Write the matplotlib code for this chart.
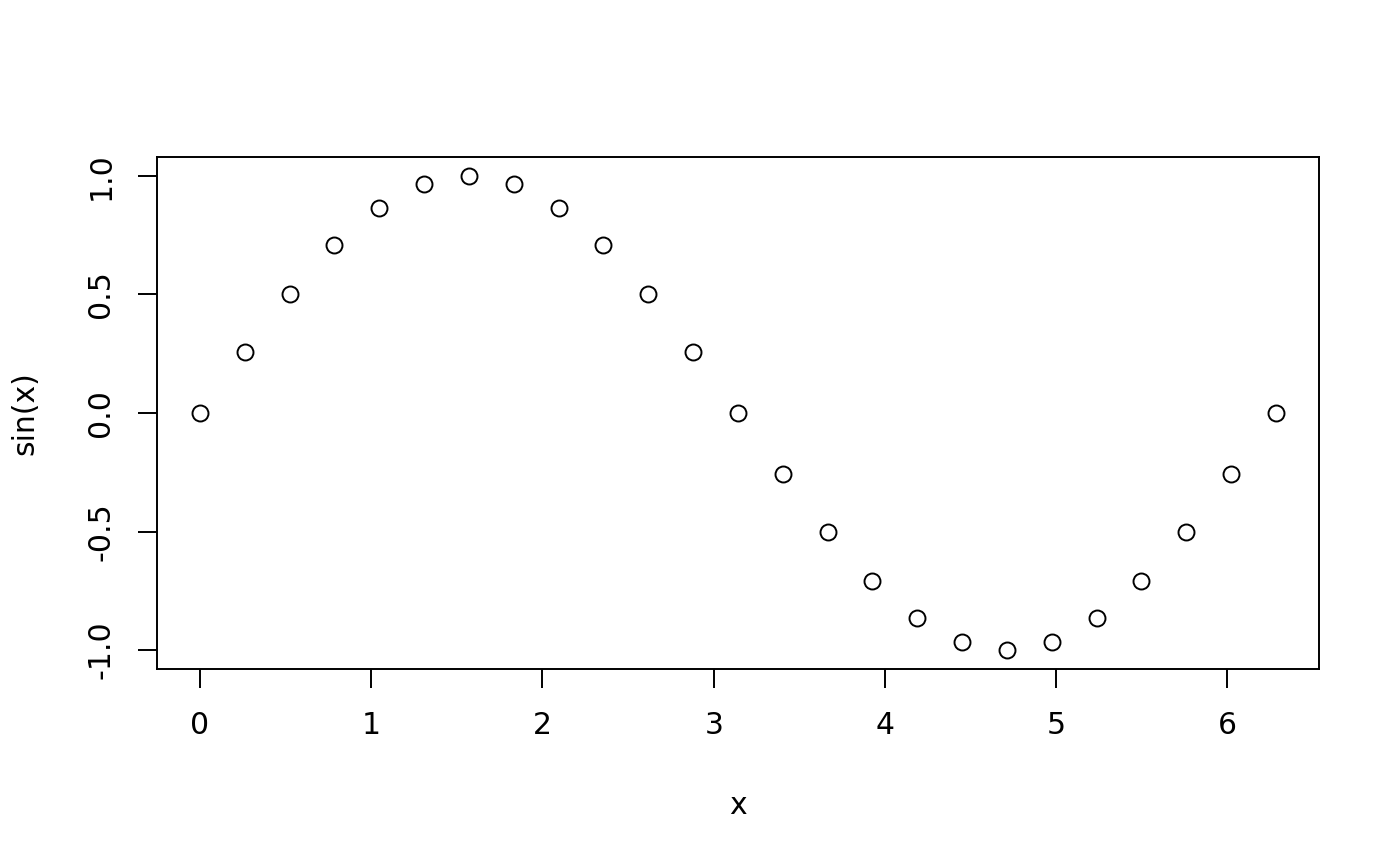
import matplotlib.pyplot as plt

# points (25 samples over 0..2pi)
x = [0.000, 0.262, 0.524, 0.785, 1.047, 1.309, 1.571, 1.833, 2.094, 2.356,
     2.618, 2.880, 3.142, 3.403, 3.665, 3.927, 4.189, 4.451, 4.712, 4.974,
     5.236, 5.498, 5.760, 6.021, 6.283]
y = [0.000, 0.259, 0.500, 0.707, 0.866, 0.966, 1.000, 0.966, 0.866, 0.707,
     0.500, 0.259, 0.000, -0.259, -0.500, -0.707, -0.866, -0.966, -1.000, -0.966,
     -0.866, -0.707, -0.500, -0.259, 0.000]

xticks = [0, 1, 2, 3, 4, 5, 6]
yticks = [-1.0, -0.5, 0.0, 0.5, 1.0]

plt.rcParams['font.family'] = ['DejaVu Sans']

fig = plt.figure(figsize=(14, 8.66), dpi=100)
ax = fig.add_axes([0.1121, 0.2275, 0.8300, 0.5912])

ax.plot(x, y, linestyle='none', marker='o', markersize=11.5,
        markerfacecolor='white', markeredgecolor='black', markeredgewidth=1.4)

ax.set_xlim(-0.2513, 6.5345)
ax.set_ylim(-1.08, 1.08)
ax.set_xticks(xticks)
ax.set_xticklabels([str(t) for t in xticks])
ax.set_yticks(yticks)
ax.set_yticklabels([f"{t:.1f}" for t in yticks], rotation=90, va='center')

for s in ax.spines.values():
    s.set_linewidth(1.4)
ax.tick_params(direction='out', length=14, width=1.4, labelsize=21.5, pad=16)

ax.set_xlabel('x', fontsize=21.5, labelpad=37)
ax.set_ylabel('sin(x)', fontsize=21.5, labelpad=34)

fig.savefig('out.png', dpi=100)
